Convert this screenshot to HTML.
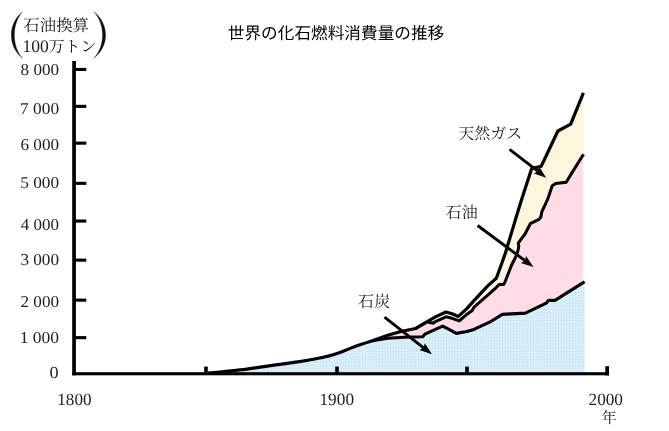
<!DOCTYPE html>
<html lang="ja"><head><meta charset="utf-8"><title>世界の化石燃料消費量の推移</title>
<style>
html,body{margin:0;padding:0;background:#fff;}
body{width:669px;height:431px;overflow:hidden;font-family:"Liberation Serif",serif;}
svg{display:block;}
text{font-family:"Liberation Serif",serif;font-size:16px;fill:#1c1c1c;text-rendering:geometricPrecision;}
</style></head><body>
<svg width="669" height="431" viewBox="0 0 669 431">
<defs>
<pattern id="dots" width="2.8" height="2.8" patternUnits="userSpaceOnUse">
<rect width="2.8" height="2.8" fill="#d8f0fc"/><circle cx="1.4" cy="1.4" r="0.62" fill="#c9d6ec"/>
</pattern>
<filter id="soft" x="0" y="0" width="669" height="431" filterUnits="userSpaceOnUse"><feGaussianBlur stdDeviation="0.4"/></filter>
</defs>
<rect width="669" height="431" fill="#fff"/>
<g filter="url(#soft)">
<path d="M208 373C210.3 372.8 217.3 372.3 222 371.9C226.7 371.5 231.3 370.9 236 370.4C240.7 369.8 243.7 369.5 250 368.6C256.3 367.7 266 366.2 274 365.1C282 364 291 363 298 361.9C305 360.8 310.7 359.8 316 358.7C321.3 357.6 326 356.6 330 355.6C334 354.6 335.8 354 340 352.5C344.2 351 349.6 348.3 355 346.4C360.4 344.4 369.3 341.7 372.2 340.8L387.8 338.2L404.5 337.3L422.6 336.8L425 334.1L435.4 329.4L442.7 326.1L449 329.4L456.3 333.4L466.8 331.5L474 329.4L489.6 322.2L502.3 314.4L525.4 313.1L546.7 302.9L548.4 300.4L555 300.4L583 282.8L584.6 281.8L584.6 281.8L584.6 373.5L208 373.5Z" fill="url(#dots)"/>
<polygon points="372.2,340.8 387.8,335.2 401.7,331.3 415.6,328.5 425,323 428.5,321.6 429.5,322.6 433.4,323.2 435.4,321.6 445.9,316.8 452.1,318.3 459.4,320.9 466.8,314.3 472,310.7 474,307.2 488.9,294.2 495.9,287.8 499.1,284.6 503.6,284.6 505.5,280.8 511.4,265.5 515.4,257.5 517.9,251 518.8,246.3 518.2,243.4 520.2,240.3 525,234 530.3,223.7 539,219.4 540.9,217 541.8,211.8 547.9,198.7 552.2,185.7 555.7,183.4 566.2,182.2 573.1,170.9 581.8,157 583.6,154.3 583,154.3 583,281.8 584.6,281.8 583,282.8 555,300.4 548.4,300.4 546.7,302.9 525.4,313.1 502.3,314.4 489.6,322.2 474,329.4 466.8,331.5 456.3,333.4 449,329.4 442.7,326.1 435.4,329.4 425,334.1 422.6,336.8 404.5,337.3 387.8,338.2" fill="#ffdce6"/>
<polygon points="425,323 435.4,316.9 445.9,312 452.1,313.8 458.4,316.4 466.8,308.6 474,300.6 487.7,285.9 496.3,278.3 501,265.5 505.5,252.8 509.3,240 511.6,232.4 516.3,216.7 521.3,200.5 524.7,190 531.7,168.6 541.2,166.2 557.9,131 570.7,124.1 583.4,92.8 583.8,92.8 583.8,154.3 583.6,154.3 581.8,157 573.1,170.9 566.2,182.2 555.7,183.4 552.2,185.7 547.9,198.7 541.8,211.8 540.9,217 539,219.4 530.3,223.7 525,234 520.2,240.3 518.2,243.4 518.8,246.3 517.9,251 515.4,257.5 511.4,265.5 505.5,280.8 503.6,284.6 499.1,284.6 495.9,287.8 488.9,294.2 474,307.2 472,310.7 466.8,314.3 459.4,320.9 452.1,318.3 445.9,316.8 435.4,321.6 433.4,323.2 429.5,322.6 428.5,321.6" fill="#fdf5dc"/>
<rect x="582.6" y="154.3" width="1.4" height="127.5" fill="#fef8e6"/>
<polyline points="372.2,340.8 387.8,338.2 404.5,337.3 422.6,336.8 425,334.1 435.4,329.4 442.7,326.1 449,329.4 456.3,333.4 466.8,331.5 474,329.4 489.6,322.2 502.3,314.4 525.4,313.1 546.7,302.9 548.4,300.4 555,300.4 583,282.8 584.6,281.8" fill="none" stroke="#000" stroke-width="3.1" stroke-linejoin="round" stroke-linecap="butt"/>
<polyline points="428.5,321.6 429.5,322.6 433.4,323.2 435.4,321.6 445.9,316.8 452.1,318.3 459.4,320.9 466.8,314.3 472,310.7 474,307.2 488.9,294.2 495.9,287.8 499.1,284.6 503.6,284.6 505.5,280.8 511.4,265.5 515.4,257.5 517.9,251 518.8,246.3 518.2,243.4 520.2,240.3 525,234 530.3,223.7 539,219.4 540.9,217 541.8,211.8 547.9,198.7 552.2,185.7 555.7,183.4 566.2,182.2 573.1,170.9 581.8,157 583.6,154.3" fill="none" stroke="#000" stroke-width="3.0" stroke-linejoin="round" stroke-linecap="butt"/>
<path d="M208 373C210.3 372.8 217.3 372.3 222 371.9C226.7 371.5 231.3 370.9 236 370.4C240.7 369.8 243.7 369.5 250 368.6C256.3 367.7 266 366.2 274 365.1C282 364 291 363 298 361.9C305 360.8 310.7 359.8 316 358.7C321.3 357.6 326 356.6 330 355.6C334 354.6 335.8 354 340 352.5C344.2 351 349.6 348.3 355 346.4C360.4 344.4 369.3 341.7 372.2 340.8L387.8 335.2L401.7 331.3L415.6 328.5L425 323L435.4 316.9L445.9 312L452.1 313.8L458.4 316.4L466.8 308.6L474 300.6L487.7 285.9L496.3 278.3L501 265.5L505.5 252.8L509.3 240L511.6 232.4L516.3 216.7L521.3 200.5L524.7 190L531.7 168.6L541.2 166.2L557.9 131L570.7 124.1L583.4 92.8" fill="none" stroke="#000" stroke-width="3.2" stroke-linejoin="round" stroke-linecap="butt"/>
<g fill="#000">
<rect x="72.2" y="61" width="3.7" height="314.3"/>
<rect x="72.2" y="372.2" width="536.8" height="3.1"/>
<rect x="75" y="67.9" width="11.3" height="3.1"/>
<rect x="75" y="104.8" width="11.3" height="3.1"/>
<rect x="75" y="141.6" width="11.3" height="3.1"/>
<rect x="75" y="181.8" width="11.3" height="3.1"/>
<rect x="75" y="219.5" width="11.3" height="3.1"/>
<rect x="75" y="258.6" width="11.3" height="3.1"/>
<rect x="75" y="298.6" width="11.3" height="3.1"/>
<rect x="75" y="336.1" width="11.3" height="3.1"/>
<rect x="204.2" y="366.6" width="3.6" height="6"/>
<rect x="335.2" y="366.6" width="3.6" height="6"/>
<rect x="465.2" y="366.6" width="3.6" height="6"/>
<rect x="605.3" y="366.2" width="3.7" height="9.2"/>
</g>
<line x1="509.6" y1="149.3" x2="537.8" y2="171.2" stroke="#000" stroke-width="2.9" stroke-linecap="butt"/><polygon points="546.2,177.7 533.7,173.4 537.8,171.2 539,166.6" fill="#000"/><line x1="477.6" y1="225.5" x2="525.0" y2="260.6" stroke="#000" stroke-width="2.9" stroke-linecap="butt"/><polygon points="533.5,266.9 520.9,262.9 525,260.6 526,256" fill="#000"/><line x1="384.5" y1="317.2" x2="423.6" y2="347.8" stroke="#000" stroke-width="2.9" stroke-linecap="butt"/><polygon points="432,354.3 419.5,350 423.6,347.8 424.8,343.2" fill="#000"/>
<g opacity="0.99">
<text transform="translate(20.55 75.24) scale(1.0695 1.0373)">8 000</text>
<text transform="translate(20.06 113.54) scale(1.0834 1.0373)">7 000</text>
<text transform="translate(20.46 150.44) scale(1.0719 1.0373)">6 000</text>
<text transform="translate(20.20 188.24) scale(1.0795 1.0373)">5 000</text>
<text transform="translate(20.87 229.64) scale(1.0605 1.0373)">4 000</text>
<text transform="translate(20.38 265.24) scale(1.0744 1.0373)">3 000</text>
<text transform="translate(20.45 306.94) scale(1.0724 1.0373)">2 000</text>
<text transform="translate(19.66 342.94) scale(1.0946 1.0373)">1 000</text>
<text transform="translate(49.41 378.14) scale(1.1355 1.0559)">0</text>
<text transform="translate(57.29 404.73) scale(1.0706 1.0651)">1800</text>
<text transform="translate(319.48 404.83) scale(1.0806 1.0744)">1900</text>
<text transform="translate(588.54 404.53) scale(1.0754 1.0651)">2000</text>
<text transform="translate(22.46 52.23) scale(1.0962 1.1114)">100</text>
</g>
<path d="M22.4 11.7C15 18 11.3 26 11.3 35C11.3 44 15 52 22.4 58.2C16.5 51 14.4 43 14.4 35C14.4 27 16.5 19 22.4 11.7Z" fill="#111" stroke="#111" stroke-width="0.3"/>
<path d="M94 11.7C101.6 18 105.6 26 105.6 35C105.6 44 101.6 52 94 58.2C100.2 51 102.5 43 102.5 35C102.5 27 100.2 19 94 11.7Z" fill="#111" stroke="#111" stroke-width="0.3"/>
<g fill="#1a1a1a">
<text x="23.2" y="30.8" textLength="65.8" lengthAdjust="spacing" style="font-family:'Liberation Serif','Noto Serif CJK SC',serif;font-size:16.4px;fill:#1a1a1a;">石油換算</text>
<text x="48.6" y="51.5" textLength="48" lengthAdjust="spacing" style="font-family:'Liberation Serif','Noto Serif CJK SC',serif;font-size:16px;fill:#1a1a1a;">万トン</text>
<text x="458.2" y="139.4" textLength="64" lengthAdjust="spacing" style="font-family:'Liberation Serif','Noto Serif CJK SC',serif;font-size:16px;fill:#1a1a1a;">天然ガス</text>
<text x="445.4" y="218.3" textLength="32.4" lengthAdjust="spacing" style="font-family:'Liberation Serif','Noto Serif CJK SC',serif;font-size:16px;fill:#1a1a1a;">石油</text>
<text x="358" y="306.7" textLength="32.2" lengthAdjust="spacing" style="font-family:'Liberation Serif','Noto Serif CJK SC',serif;font-size:16px;fill:#1a1a1a;">石炭</text>
<text x="601.2" y="423.4" style="font-family:'Liberation Serif','Noto Serif CJK SC',serif;font-size:15.6px;fill:#1a1a1a;">年</text>
</g>
</g>
<text x="227.8" y="38.6" textLength="216.4" lengthAdjust="spacing" style="font-family:'Liberation Sans','Noto Sans CJK JP',sans-serif;font-size:16.6px;fill:#000;">世界の化石燃料消費量の推移</text>
</svg>
</body></html>
